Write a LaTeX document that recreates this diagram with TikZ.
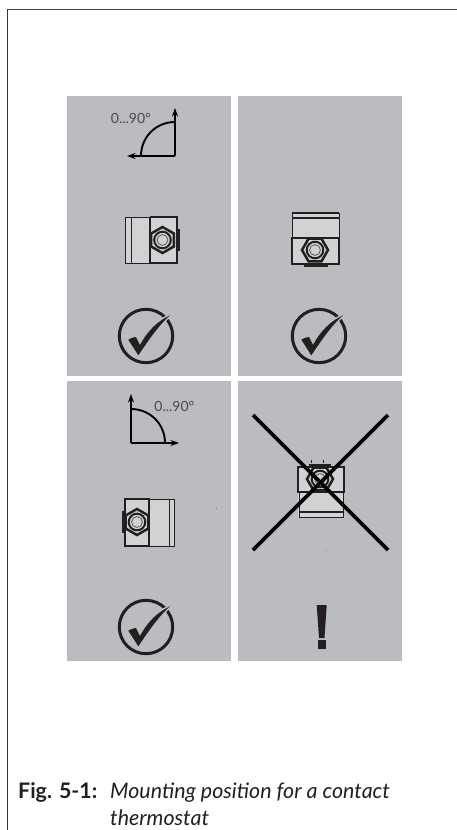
\documentclass[tikz,border=0pt]{standalone}
\usepackage{fontspec}
\setmainfont{Lato}
\usetikzlibrary{arrows.meta}
\definecolor{panelgrey}{HTML}{BBBCC0}
\definecolor{bodygrey}{HTML}{D1D2D4}
\definecolor{inkblack}{HTML}{231F20}
\definecolor{labelgrey}{HTML}{4A4A4C}
\tikzset{
  panel/.style={fill=panelgrey,draw=none},
  bodyfill/.style={fill=bodygrey,draw=none},
  heavy/.style={draw=inkblack,line width=2.3pt},
  thinl/.style={draw=inkblack,line width=0.9pt},
  angleline/.style={draw=black,line width=1.9pt},
  anglearrow/.style={draw=black,line width=1.8pt,-{Stealth[length=8.5pt,width=6pt]}},
  anglelabel/.style={text=labelgrey,font=\fontsize{14}{14}\selectfont,inner sep=0pt},
  crossline/.style={draw=black,line width=3.6pt},
  capt/.style={text=inkblack,inner sep=0pt,anchor=base west,font=\fontsize{21.4}{21.4}\selectfont},
}
\newcommand{\nutmark}[3]{%
  \begin{scope}[shift={(#1,#2)},rotate=#3]
    \draw[draw=inkblack,line width=2.5pt,fill=bodygrey]
      (0,-13) -- (11.3,-6.5) -- (11.3,6.5) -- (0,13) -- (-11.3,6.5) -- (-11.3,-6.5) -- cycle;
    \draw[draw=inkblack,line width=2pt,fill=bodygrey] (0,0) circle[radius=8.3];
    \draw[draw=inkblack!75,line width=0.8pt] (0,0) circle[radius=5.4];
  \end{scope}}
\newcommand{\tickmark}[2]{%
  \begin{scope}[shift={(#1,#2)}]
    \draw[draw=inkblack,line width=3pt] (0,0) circle[radius=26.7];
    \draw[draw=panelgrey,line width=3pt,line join=round]
      (-17.7,3.7) .. controls (-14,1.5) and (-11,1) .. (-10,1)
      -- (-6,9) .. controls (2,-6) and (12,-15) .. (24,-20.7)
      .. controls (12,-10) and (2,5) .. (-7.7,19.3) -- cycle;
    \fill[inkblack]
      (-17.7,3.7) .. controls (-14,1.5) and (-11,1) .. (-10,1)
      -- (-6,9) .. controls (2,-6) and (12,-15) .. (24,-20.7)
      .. controls (12,-10) and (2,5) .. (-7.7,19.3) -- cycle;
  \end{scope}}
\begin{document}
\begin{tikzpicture}[x=1pt,y=-1pt]
\useasboundingbox (0,0) rectangle (457,830);
\fill[white] (0,0) rectangle (457,830);
% frame
\draw[draw=inkblack!85,line width=1.4pt] (457,9.7) -- (7.5,9.7);
\draw[draw=inkblack!90,line width=1.8pt] (7.5,9) -- (7.5,830);
% panels
\path[panel] (67,96) rectangle (231,376);
\path[panel] (238,96) rectangle (402,376);
\path[panel] (67,381) rectangle (231,661);
\path[panel] (238,381) rectangle (402,661);

% angle indicator, panel 1
\coordinate (c1) at (175,156);
\coordinate (u1) at (175,108);
\coordinate (l1) at (127,156);
\draw[anglearrow] (c1) -- (u1);
\draw[anglearrow] (c1) -- (l1);
\draw[angleline] (175,122) .. controls (156,122) and (141,137) .. (141,156);
\node[anglelabel] (t1) at (131,118) {0...90°};

% device, panel 1
\path[bodyfill] (125,217) rectangle (177,263);
\draw[thinl] (125,217) rectangle (150,263);
\draw[thinl] (131,217) -- (131,263);
\draw[heavy] (150,263) -- (150,217);
\draw[heavy] (150,217) -- (177,217) -- (177,263) -- (150,263);
\draw[draw=inkblack,line width=2pt] (178.5,229) -- (178.5,251);
\nutmark{162.5}{240}{0}

% device, panel 2
\path[bodyfill] (292,213) rectangle (339,264);
\draw[thinl] (292,213) rectangle (339,238);
\draw[draw=inkblack,line width=1.2pt] (292,213) -- (339,213);
\draw[draw=inkblack,line width=1.2pt] (292,218) -- (339,218);
\draw[heavy] (292,238) rectangle (339,264);
\draw[draw=inkblack,line width=3pt] (304,265) -- (328,265);
\nutmark{315}{250}{90}

% device, panel 3
\path[bodyfill] (124,499) rectangle (174,546);
\draw[thinl] (149,499) rectangle (174,546);
\draw[thinl] (169,499) -- (169,546);
\draw[heavy] (149,499) rectangle (125,546);
\draw[draw=inkblack,line width=2pt] (122.5,511) -- (122.5,533);
\nutmark{137}{522}{0}

% angle indicator, panel 3
\coordinate (c3) at (131,443);
\coordinate (u3) at (131,394);
\coordinate (r3) at (179,443);
\draw[anglearrow] (c3) -- (u3);
\draw[anglearrow] (c3) -- (r3);
\draw[angleline] (131,409) .. controls (150,409) and (165,424) .. (165,443);
\node[anglelabel] (t3) at (174.5,406) {0...90°};

% device, panel 4
\path[bodyfill] (298,467) rectangle (344,517);
\draw[thinl] (299,492) -- (299,517) -- (343,517) -- (343,492);
\draw[draw=inkblack,line width=1.2pt] (299,512) -- (343,512);
\draw[heavy] (298,467) rectangle (344,492);
\draw[draw=inkblack,line width=3pt] (309,465) -- (331,465);
\draw[thinl] (311,460) -- (311,463);
\draw[thinl] (323,460) -- (323,463);
\nutmark{320}{479}{90}

% cross
\coordinate (x1) at (253,415);
\coordinate (x2) at (388,550);
\coordinate (x3) at (388,415);
\coordinate (x4) at (253,550);
\draw[crossline] (x1) -- (x2);
\draw[crossline] (x3) -- (x4);

% ticks
\tickmark{146}{336}
\tickmark{319}{336}
\tickmark{146}{627}

% exclamation mark
\fill[inkblack] (316.7,605) -- (326.7,605) -- (324.5,638) -- (319,638) -- cycle;
\fill[inkblack] (317.5,640) rectangle (326,649);

% specks
\fill[inkblack!60] (215.6,507.6) rectangle (216.4,508.4);
\fill[inkblack!60] (325.6,549.6) rectangle (326.4,550.4);

% caption
\node[capt] (figlabel) at (18,798) {\textbf{Fig. 5-1:}};
\node[capt] (capone) at (110,798) {\textit{Mounting position for a contact}};
\node[capt] (captwo) at (110,825) {\textit{thermostat}};
\end{tikzpicture}
\end{document}
